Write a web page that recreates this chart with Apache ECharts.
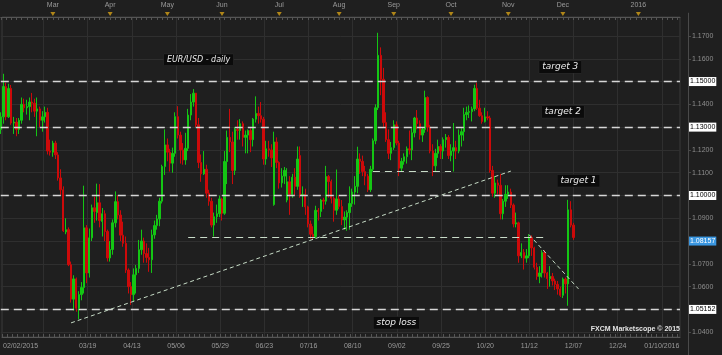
<!DOCTYPE html>
<html><head><meta charset="utf-8">
<script src="https://cdn.jsdelivr.net/npm/echarts@6/dist/echarts.min.js"></script>
<style>html,body{margin:0;padding:0;background:#1f1f1f}#c{width:722px;height:355px}</style>
</head><body><div id="c"></div>
<script>
// EUR/USD daily, 02/02/2015 .. 12/07/2015 (one value per trading day)
const opens = [
1.1290,1.1345,1.1478,1.1345,1.1470,1.1318,1.1322,1.1290,1.1330,1.1400,
1.1385,1.1390,1.1410,1.1405,1.1370,1.1380,1.1330,1.1345,1.1365,1.1195,
1.1190,1.1230,1.1178,1.1077,1.1025,1.0840,1.0850,1.0696,1.0545,1.0634,
1.0505,1.0565,1.0596,1.0858,1.0660,1.0814,1.0946,1.0925,1.0968,1.0886,
1.0920,1.0842,1.0726,1.0763,1.0880,1.0973,1.0914,1.0826,1.0790,1.0673,
1.0600,1.0565,1.0652,1.0680,1.0762,1.0800,1.0745,1.0728,1.0718,1.0827,
1.0868,1.0897,1.0975,1.1127,1.1222,1.1190,1.1142,1.1185,1.1346,1.1265,
1.1200,1.1156,1.1207,1.1353,1.1410,1.1449,1.1310,1.1145,1.1095,1.1115,
1.1010,1.0975,1.0870,1.0907,1.0920,1.0985,1.0922,1.1149,1.1255,1.1235,
1.1110,1.1290,1.1285,1.1315,1.1255,1.1265,1.1285,1.1245,1.1335,1.1360,
1.1350,1.1335,1.1160,1.1205,1.1200,1.0960,1.1235,1.1145,1.1055,1.1085,
1.0980,1.1060,1.1005,1.1080,1.1040,1.1175,1.1000,1.1005,1.0950,1.0875,
1.0830,1.0820,1.0935,1.0930,1.0980,1.0975,1.1083,1.1061,1.0988,1.0935,
1.0985,1.0952,1.0893,1.0905,1.0925,1.0965,1.1015,1.1040,1.1160,1.1150,
1.1105,1.1085,1.1025,1.1115,1.1240,1.1385,1.1615,1.1510,1.1320,1.1245,
1.1185,1.1210,1.1310,1.1230,1.1120,1.1150,1.1170,1.1205,1.1200,1.1275,
1.1340,1.1315,1.1265,1.1290,1.1430,1.1300,1.1195,1.1130,1.1185,1.1215,
1.1195,1.1245,1.1255,1.1175,1.1195,1.1210,1.1195,1.1265,1.1280,1.1355,
1.1365,1.1368,1.1380,1.1470,1.1383,1.1350,1.1325,1.1345,1.1340,1.1110,
1.1010,1.1055,1.1045,1.0920,1.0975,1.1005,1.1015,1.0958,1.0875,1.0880,
1.0735,1.0750,1.0725,1.0735,1.0815,1.0770,1.0685,1.0645,1.0660,1.0750,
1.0660,1.0635,1.0645,1.0625,1.0610,1.0590,1.0562,1.0633,1.0612,1.0937,
1.0870];
const closes = [
1.1345,1.1478,1.1345,1.1470,1.1318,1.1322,1.1290,1.1330,1.1400,1.1385,
1.1390,1.1410,1.1405,1.1370,1.1380,1.1330,1.1345,1.1365,1.1195,1.1190,
1.1230,1.1178,1.1077,1.1025,1.0845,1.0850,1.0696,1.0545,1.0634,1.0505,
1.0565,1.0596,1.0858,1.0660,1.0814,1.0946,1.0930,1.0968,1.0890,1.0920,
1.0842,1.0726,1.0763,1.0880,1.0973,1.0914,1.0826,1.0790,1.0673,1.0600,
1.0565,1.0652,1.0680,1.0762,1.0800,1.0745,1.0728,1.0718,1.0827,1.0868,
1.0897,1.0975,1.1127,1.1222,1.1190,1.1142,1.1185,1.1346,1.1265,1.1200,
1.1156,1.1207,1.1353,1.1410,1.1449,1.1310,1.1145,1.1095,1.1115,1.1010,
1.0975,1.0870,1.0907,1.0920,1.0985,1.0922,1.1149,1.1255,1.1235,1.1110,
1.1290,1.1285,1.1315,1.1255,1.1265,1.1285,1.1245,1.1335,1.1360,1.1350,
1.1335,1.1160,1.1205,1.1200,1.1165,1.1235,1.1145,1.1055,1.1085,1.1110,
1.1060,1.1005,1.1080,1.1040,1.1160,1.1000,1.1005,1.0950,1.0875,1.0830,
1.0820,1.0935,1.0930,1.0980,1.0975,1.1083,1.1061,1.0988,1.0935,1.0985,
1.0952,1.0893,1.0905,1.0925,1.0965,1.1015,1.1040,1.1160,1.1150,1.1105,
1.1085,1.1025,1.1115,1.1240,1.1385,1.1615,1.1510,1.1320,1.1245,1.1185,
1.1210,1.1310,1.1230,1.1120,1.1150,1.1170,1.1205,1.1200,1.1275,1.1340,
1.1315,1.1265,1.1290,1.1430,1.1300,1.1195,1.1130,1.1185,1.1215,1.1195,
1.1245,1.1255,1.1175,1.1195,1.1210,1.1195,1.1265,1.1280,1.1355,1.1365,
1.1368,1.1380,1.1470,1.1383,1.1350,1.1325,1.1345,1.1340,1.1110,1.1010,
1.1055,1.1045,1.0920,1.0975,1.1005,1.1015,1.0958,1.0875,1.0880,1.0735,
1.0750,1.0725,1.0735,1.0815,1.0770,1.0685,1.0645,1.0660,1.0750,1.0660,
1.0635,1.0645,1.0625,1.0610,1.0590,1.0562,1.0633,1.0612,1.0937,1.0870,
1.08157];
const highs = [
1.1365,1.1534,1.1495,1.1490,1.1485,1.1345,1.1340,1.1340,1.1430,1.1425,
1.1420,1.1430,1.1450,1.1425,1.1430,1.1390,1.1370,1.1390,1.1385,1.1245,
1.1240,1.1240,1.1190,1.1115,1.1040,1.0900,1.0860,1.0710,1.0650,1.0640,
1.0580,1.0620,1.1043,1.0870,1.0855,1.0960,1.0995,1.1052,1.1050,1.0945,
1.0935,1.0850,1.0800,1.0895,1.1018,1.1000,1.0935,1.0885,1.0820,1.0680,
1.0620,1.0680,1.0695,1.0805,1.0850,1.0815,1.0790,1.0770,1.0850,1.0890,
1.0915,1.0990,1.1135,1.1290,1.1250,1.1205,1.1210,1.1365,1.1392,1.1280,
1.1230,1.1275,1.1380,1.1445,1.1467,1.1450,1.1340,1.1180,1.1195,1.1135,
1.1025,1.0990,1.0925,1.0960,1.1000,1.0990,1.1195,1.1285,1.1380,1.1280,
1.1300,1.1330,1.1335,1.1325,1.1285,1.1290,1.1295,1.1340,1.1435,1.1390,
1.1410,1.1345,1.1240,1.1240,1.1225,1.1280,1.1255,1.1150,1.1120,1.1125,
1.1120,1.1085,1.1095,1.1120,1.1215,1.1215,1.1040,1.1030,1.0955,1.0890,
1.0865,1.0955,1.0945,1.0985,1.0990,1.1130,1.1090,1.1070,1.0995,1.1114,
1.1000,1.0980,1.0930,1.0935,1.1040,1.1030,1.1085,1.1214,1.1185,1.1175,
1.1130,1.1095,1.1130,1.1250,1.1400,1.1714,1.1650,1.1560,1.1365,1.1290,
1.1235,1.1330,1.1325,1.1240,1.1165,1.1185,1.1215,1.1285,1.1295,1.1345,
1.1375,1.1330,1.1300,1.1460,1.1435,1.1310,1.1225,1.1205,1.1245,1.1225,
1.1255,1.1270,1.1265,1.1225,1.1318,1.1240,1.1290,1.1295,1.1385,1.1390,
1.1395,1.1390,1.1486,1.1495,1.1420,1.1365,1.1385,1.1370,1.1350,1.1130,
1.1085,1.1070,1.1095,1.0985,1.1045,1.1045,1.1030,1.0965,1.0925,1.0885,
1.0790,1.0765,1.0765,1.0830,1.0825,1.0775,1.0705,1.0690,1.0760,1.0760,
1.0665,1.0690,1.0660,1.0635,1.0625,1.0600,1.0640,1.0640,1.0981,1.0975,
1.0880];
const lows = [
1.1270,1.1315,1.1330,1.1340,1.1310,1.1270,1.1260,1.1270,1.1315,1.1365,
1.1355,1.1330,1.1365,1.1345,1.1260,1.1300,1.1280,1.1320,1.1180,1.1175,
1.1170,1.1160,1.1065,1.1000,1.0840,1.0830,1.0690,1.0530,1.0495,1.0490,
1.0457,1.0540,1.0570,1.0615,1.0640,1.0800,1.0880,1.0890,1.0860,1.0820,
1.0800,1.0710,1.0710,1.0740,1.0860,1.0895,1.0800,1.0775,1.0660,1.0570,
1.0520,1.0535,1.0570,1.0660,1.0740,1.0705,1.0705,1.0665,1.0660,1.0810,
1.0850,1.0865,1.0965,1.1090,1.1150,1.1105,1.1100,1.1170,1.1250,1.1140,
1.1135,1.1135,1.1195,1.1330,1.1390,1.1300,1.1120,1.1060,1.1090,1.0990,
1.0955,1.0860,1.0820,1.0880,1.0905,1.0890,1.0915,1.1050,1.1190,1.1050,
1.1090,1.1245,1.1245,1.1215,1.1185,1.1185,1.1190,1.1215,1.1320,1.1315,
1.1320,1.1135,1.1135,1.1170,1.1125,1.0955,1.1120,1.1030,1.1035,1.1050,
1.0970,1.0915,1.0990,1.1000,1.1025,1.0990,1.0950,1.0915,1.0860,1.0810,
1.0805,1.0810,1.0890,1.0905,1.0940,1.0960,1.0990,1.0965,1.0885,1.0915,
1.0940,1.0870,1.0850,1.0845,1.0850,1.0950,1.0960,1.1010,1.1095,1.1085,
1.1045,1.1015,1.1015,1.1105,1.1225,1.1375,1.1440,1.1300,1.1235,1.1160,
1.1155,1.1200,1.1220,1.1085,1.1105,1.1135,1.1140,1.1180,1.1155,1.1255,
1.1290,1.1245,1.1235,1.1275,1.1280,1.1185,1.1085,1.1105,1.1165,1.1160,
1.1160,1.1210,1.1160,1.1150,1.1105,1.1160,1.1185,1.1215,1.1240,1.1330,
1.1340,1.1325,1.1370,1.1375,1.1345,1.1315,1.1320,1.1330,1.1100,1.0995,
1.0990,1.1005,1.0895,1.0895,1.0950,1.0985,1.0945,1.0860,1.0860,1.0705,
1.0725,1.0675,1.0705,1.0725,1.0735,1.0675,1.0630,1.0615,1.0640,1.0640,
1.0590,1.0600,1.0605,1.0585,1.0565,1.0555,1.0550,1.0570,1.0516,1.0860,
1.0805];

const bottomTickLabels = ['02/02/2015','03/19','04/13','05/06','05/29','06/23','07/16','08/10','09/02','09/25','10/20','11/12','12/07','12/24','01/10/2016'];
const topTickLabels = ['Mar','Apr','May','Jun','Jul','Aug','Sep','Oct','Nov','Dec','2016'];
const yTickLabels = ['1.0400','1.0500','1.0600','1.0700','1.0800','1.0900','1.1100','1.1200','1.1400','1.1600','1.1700'];

// horizontal levels (full width) and last price
const levels = [1.15, 1.13, 1.10, 1.05152];
const lastPrice = 1.08157;
// drawn support / trend segments: [date, price] -> [date, price]
const supportSegments = [
  [['2015-05-13', 1.0815], ['2015-11-20', 1.0815]],
  [['2015-08-20', 1.1108], ['2015-10-01', 1.1108]]
];
const trendSegments = [
  [['2015-03-11', 1.0441], ['2015-11-03', 1.1107]],
  [['2015-11-12', 1.0828], ['2015-12-09', 1.0590]]
];
const notes = [
  {text: 'EUR/USD - daily', date: '2015-05-19', price: 1.1596, size: 8},
  {text: 'target 3', date: '2015-11-30', price: 1.1564, size: 9},
  {text: 'target 2', date: '2015-12-01', price: 1.1367, size: 9},
  {text: 'target 1', date: '2015-12-09', price: 1.1065, size: 9},
  {text: 'stop loss', date: '2015-09-02', price: 1.0441, size: 9}
];

// categories: trading days, then calendar days in the future area
const SLOTS = 262;
const categories = [];
(function(){
  const d = new Date(Date.UTC(2015, 1, 2));
  const ymd = x => x.toISOString().slice(0, 10);
  while (categories.length < opens.length) {
    const w = d.getUTCDay();
    if (w !== 0 && w !== 6) categories.push(ymd(d));
    d.setUTCDate(d.getUTCDate() + 1);
  }
  while (categories.length < SLOTS) { categories.push(ymd(d)); d.setUTCDate(d.getUTCDate() + 1); }
})();

const monthStarts = [];
for (let i = 1; i < categories.length; i++) {
  if (categories[i].slice(0, 7) !== categories[i - 1].slice(0, 7)) monthStarts.push(i);
}
function bottomLabelFor(v) {
  const mmdd = v.slice(5, 7) + '/' + v.slice(8, 10);
  const full = mmdd + '/' + v.slice(0, 4);
  if (bottomTickLabels.indexOf(full) >= 0) return full;
  if (bottomTickLabels.indexOf(mmdd) >= 0) return mmdd;
  return null;
}

const upC = '#14c614', downC = '#cc0a0a';
const LEFT = 0.8, WIDTH = 679.2;
const FONT = 'Liberation Sans';

const markLineData = [];
levels.forEach(v => markLineData.push({
  yAxis: v,
  lineStyle: {color: '#d6d6d6', type: [8, 5], width: 1.3},
  label: {show: true, position: 'end', distance: 9, formatter: v.toFixed(5),
          backgroundColor: '#ffffff', color: '#000', fontSize: 7, fontFamily: FONT,
          padding: [1, 1, 0, 1], lineHeight: 8}
}));
markLineData.push({
  yAxis: lastPrice,
  lineStyle: {color: 'rgba(0,0,0,0)', width: 1},
  label: {show: true, position: 'end', distance: 9, formatter: lastPrice.toFixed(5),
          backgroundColor: '#3a96e0', color: '#ffffff', fontSize: 7, fontFamily: FONT,
          padding: [1, 1, 0, 1], lineHeight: 8, opacity: 1}
});
supportSegments.forEach(s => markLineData.push([
  {coord: s[0], lineStyle: {color: '#c9dcc9', type: [7, 5], width: 1.2}, label: {show: false}},
  {coord: s[1]}
]));
trendSegments.forEach(s => markLineData.push([
  {coord: s[0], lineStyle: {color: '#c7dcc7', type: [4, 3], width: 1}, label: {show: false}},
  {coord: s[1]}
]));

const option = {
  backgroundColor: '#1f1f1f',
  animation: false,
  textStyle: {fontFamily: FONT},
  grid: [
    {left: LEFT, width: WIDTH, top: 13.18, height: 342.32},
    {left: LEFT, width: WIDTH, top: 17, height: 320, show: true, borderColor: '#3a3a3a', borderWidth: 1, backgroundColor: 'transparent'},
    {left: LEFT, width: WIDTH, top: 11, height: 6}
  ],
  xAxis: [
    {gridIndex: 0, type: 'category', data: categories, boundaryGap: false, show: false},
    {gridIndex: 1, type: 'category', data: categories, boundaryGap: false, position: 'bottom',
     axisLine: {show: true, lineStyle: {color: '#555'}},
     axisTick: {show: true, inside: true, length: 3, interval: 1, lineStyle: {color: '#555'}},
     axisLabel: {
       interval: (i, v) => bottomLabelFor(v) !== null,
       formatter: (v, i) => { const t = bottomLabelFor(v); if (t === null) return ''; return i === 0 ? '{first|' + t + '}' : t; },
       color: '#9a9a9a', fontSize: 7, fontFamily: FONT, margin: 6,
       rich: {first: {padding: [0, 0, 0, 37], color: '#9a9a9a', fontSize: 7, fontFamily: FONT}}
     },
     splitLine: {show: true, interval: i => i >= 16 && (i - 16) % 17 === 0, lineStyle: {color: '#2f2f2f', width: 1}}
    },
    {gridIndex: 2, type: 'category', data: categories, boundaryGap: false, position: 'top',
     axisLine: {show: true, lineStyle: {color: '#555'}},
     axisTick: {show: true, inside: true, length: 3, interval: 1, lineStyle: {color: '#555'}},
     axisLabel: {
       interval: i => monthStarts.indexOf(i) >= 0,
       formatter: (v, i) => { const k = monthStarts.indexOf(i); return k >= 0 ? topTickLabels[k] : ''; },
       color: '#9a9a9a', fontSize: 7, fontFamily: FONT, margin: 2
     },
     splitLine: {show: false}
    }
  ],
  yAxis: [
    {gridIndex: 0, type: 'value', position: 'right', offset: 8, min: 1.03, max: 1.18, interval: 0.01,
     axisLine: {show: true, lineStyle: {color: '#4a4a4a'}},
     axisTick: {show: true, length: 3, lineStyle: {color: '#4a4a4a'}},
     axisLabel: {showMinLabel: false, showMaxLabel: false, margin: 4, color: '#8e8e8e', fontSize: 7, fontFamily: FONT,
       formatter: v => { const t = v.toFixed(4); return yTickLabels.indexOf(t) >= 0 ? t : ''; }},
     splitLine: {show: true, showMinLine: false, showMaxLine: false, lineStyle: {color: '#2f2f2f', width: 1}}
    },
    {gridIndex: 1, type: 'value', show: false, min: 0, max: 1},
    {gridIndex: 2, type: 'value', show: false, min: 0, max: 1}
  ],
  graphic: [{
    type: 'text', right: 42, top: 325.5, z: 100,
    style: {text: 'FXCM Marketscope \u00a9 2015', fill: '#e4e4e4', font: 'bold 7px "Liberation Sans"'}
  }],
  series: [
    {
      type: 'candlestick', xAxisIndex: 0, yAxisIndex: 0, barWidth: 1.9,
      data: opens.map((o, i) => [o, closes[i], lows[i], highs[i]]),
      itemStyle: {color: upC, color0: downC, borderColor: upC, borderColor0: downC, borderWidth: 1},
      markLine: {silent: true, symbol: ['none', 'none'], animation: false, z: 6, data: markLineData},
      markPoint: {
        silent: true, animation: false, symbol: 'rect', symbolSize: 1,
        itemStyle: {color: 'rgba(0,0,0,0)'},
        data: notes.map(n => ({
          coord: [n.date, n.price],
          label: {show: true, position: 'inside', formatter: n.text, color: '#ececec',
                  fontStyle: 'italic', fontFamily: 'DejaVu Sans', fontSize: n.size,
                  backgroundColor: '#0b0b0b', borderColor: '#2c2c2c', borderWidth: 0.5,
                  padding: [1, 3, 0, 3], lineHeight: n.size + 2}
        }))
      }
    },
    {
      type: 'scatter', xAxisIndex: 2, yAxisIndex: 2, silent: true,
      symbol: 'triangle', symbolRotate: 180, symbolSize: [5, 4],
      itemStyle: {color: '#d4a017'},
      data: monthStarts.map(i => [i, 0.5])
    }
  ]
};
const chart = echarts.init(document.getElementById('c'), null, {renderer: 'canvas'});
chart.setOption(option);
</script></body></html>
